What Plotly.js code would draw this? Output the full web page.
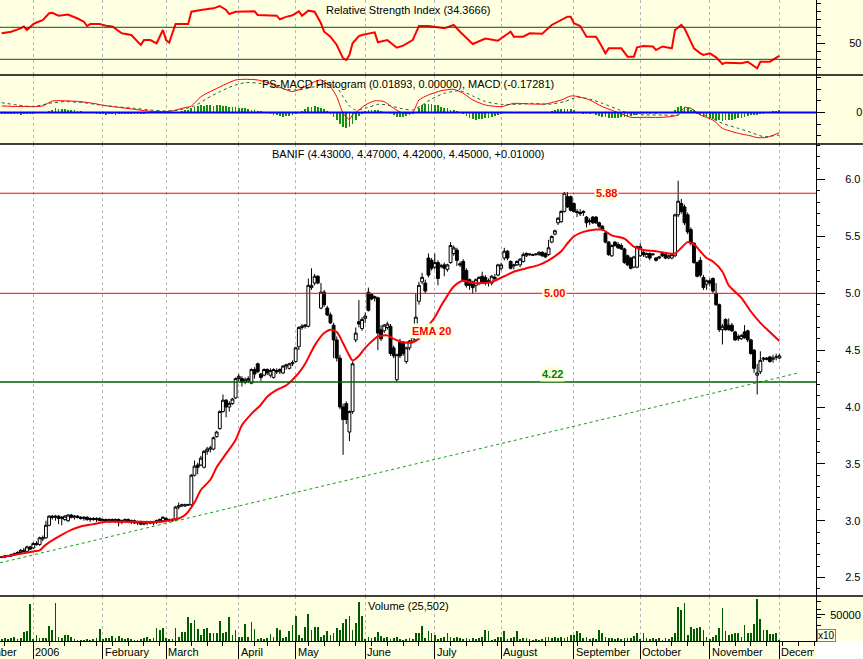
<!DOCTYPE html>
<html><head><meta charset="utf-8">
<script src="https://cdn.plot.ly/plotly-3.0.1.min.js"></script>
<style>html,body{margin:0;padding:0;background:#fff}#chart{width:863px;height:659px}</style>
</head><body><div id="chart"></div>
<script>
// ---- data (index 0 = 2 Jan 2006, trading days) ----
const firstIdx = -10;
const open = [
2.68,2.68,2.69,2.69,2.70,2.71,2.72,2.74,2.73,2.77,
2.76,2.80,2.79,2.84,2.85,2.96,3.04,3.03,3.04,3.02,
3.01,3.00,3.05,3.03,3.04,3.03,3.02,3.03,3.01,3.02,
3.01,3.02,3.00,3.01,3.00,3.01,3.00,3.01,2.99,3.00,
3.01,2.99,3.00,2.98,2.99,2.97,2.98,2.99,2.98,2.99,
3.00,3.00,3.02,3.01,3.00,3.01,3.12,3.13,3.13,3.14,
3.14,3.40,3.49,3.49,3.47,3.61,3.63,3.63,3.74,3.81,
3.96,4.06,4.00,4.03,4.08,4.25,4.25,4.22,4.23,4.21,
4.33,4.38,4.29,4.28,4.33,4.28,4.26,4.32,4.31,4.30,
4.36,4.34,4.38,4.40,4.53,4.70,4.71,4.71,5.05,5.09,
5.15,4.87,5.01,4.87,4.81,4.72,4.59,4.43,4.00,4.03,
3.78,3.96,4.59,4.75,4.69,4.78,5.01,4.99,4.97,4.96,
4.68,4.67,4.70,4.71,4.52,4.24,4.57,4.56,4.40,4.52,
4.58,4.59,4.93,5.10,5.09,5.31,5.29,5.23,5.27,5.24,
5.25,5.21,5.27,5.35,5.38,5.26,5.28,5.20,5.12,5.10,
5.07,5.09,5.15,5.14,5.10,5.09,5.14,5.16,5.22,5.31,
5.37,5.28,5.24,5.25,5.25,5.28,5.33,5.34,5.34,5.34,
5.34,5.36,5.35,5.34,5.45,5.52,5.62,5.63,5.72,5.85,
5.85,5.79,5.72,5.71,5.72,5.67,5.64,5.67,5.67,5.62,
5.59,5.53,5.45,5.33,5.45,5.43,5.42,5.39,5.33,5.31,
5.23,5.23,5.33,5.36,5.32,5.35,5.34,5.31,5.31,5.35,
5.34,5.31,5.31,5.33,5.69,5.79,5.76,5.69,5.56,5.44,
5.27,5.29,5.14,5.08,5.11,5.13,5.00,4.90,4.68,4.77,
4.72,4.72,4.66,4.62,4.60,4.66,4.67,4.59,4.50,4.28,
4.31,4.42,4.43,4.44,4.42,4.44,4.43];
const high = [
2.69,2.70,2.70,2.71,2.72,2.73,2.75,2.76,2.78,2.78,
2.81,2.82,2.86,2.87,3.00,3.05,3.05,3.05,3.05,3.04,
3.05,3.06,3.06,3.05,3.05,3.04,3.04,3.04,3.03,3.03,
3.03,3.03,3.02,3.02,3.02,3.02,3.02,3.02,3.01,3.02,
3.02,3.01,3.01,3.00,3.00,2.99,3.00,3.00,3.00,3.01,
3.02,3.04,3.03,3.02,3.02,3.13,3.16,3.15,3.15,3.15,
3.41,3.53,3.51,3.57,3.62,3.65,3.66,3.74,3.79,3.97,
4.11,4.07,4.05,4.08,4.26,4.29,4.27,4.26,4.27,4.34,
4.35,4.39,4.30,4.34,4.34,4.34,4.34,4.34,4.34,4.37,
4.38,4.39,4.41,4.53,4.71,4.73,4.73,5.13,5.22,5.17,
5.16,5.09,5.03,4.89,4.83,4.74,4.62,4.46,4.03,4.05,
3.97,4.40,4.70,4.94,4.79,4.83,5.05,5.00,4.98,4.97,
4.72,4.73,4.75,4.73,4.54,4.47,4.60,4.58,4.53,4.59,
4.62,5.00,5.10,5.18,5.12,5.35,5.31,5.35,5.29,5.26,
5.27,5.26,5.45,5.42,5.40,5.28,5.30,5.22,5.13,5.11,
5.13,5.15,5.19,5.16,5.13,5.16,5.17,5.26,5.27,5.40,
5.38,5.29,5.26,5.29,5.31,5.36,5.36,5.35,5.35,5.35,
5.37,5.37,5.36,5.47,5.51,5.56,5.67,5.73,5.89,5.89,
5.86,5.80,5.74,5.74,5.73,5.68,5.66,5.68,5.68,5.63,
5.60,5.54,5.46,5.43,5.46,5.45,5.44,5.40,5.34,5.32,
5.33,5.42,5.44,5.37,5.36,5.36,5.35,5.32,5.33,5.36,
5.35,5.34,5.35,5.70,5.99,5.83,5.78,5.71,5.58,5.45,
5.28,5.32,5.16,5.12,5.13,5.14,5.09,4.91,4.73,4.78,
4.78,4.74,4.67,4.64,4.64,4.72,4.68,4.60,4.51,4.38,
4.49,4.44,4.44,4.45,4.46,4.47,4.47];
const low = [
2.67,2.67,2.68,2.68,2.69,2.70,2.71,2.72,2.72,2.74,
2.75,2.78,2.78,2.82,2.84,2.95,3.01,3.00,2.97,2.96,
3.00,2.99,3.02,3.01,3.02,3.01,3.00,3.00,2.99,3.00,
2.99,3.00,2.99,2.99,2.98,2.99,2.98,2.95,2.97,2.98,
2.98,2.97,2.97,2.96,2.96,2.96,2.96,2.97,2.96,2.97,
2.98,2.99,3.00,2.99,2.99,3.00,3.10,3.12,3.12,3.13,
3.13,3.39,3.41,3.48,3.46,3.58,3.60,3.62,3.73,3.80,
3.95,3.91,3.96,4.02,4.07,4.23,4.18,4.20,4.21,4.20,
4.25,4.30,4.23,4.27,4.28,4.26,4.25,4.29,4.29,4.29,
4.33,4.33,4.36,4.39,4.50,4.68,4.69,4.70,5.03,5.07,
5.08,4.86,4.88,4.80,4.73,4.43,4.40,3.98,3.58,3.85,
3.70,3.94,4.57,4.70,4.67,4.74,4.84,4.94,4.93,4.50,
4.58,4.65,4.68,4.45,4.43,4.22,4.43,4.45,4.38,4.50,
4.56,4.58,4.90,5.08,5.00,5.14,5.20,5.21,5.07,5.22,
5.15,5.19,5.26,5.33,5.24,5.23,5.10,5.05,5.03,5.00,
5.01,5.07,5.08,5.07,5.06,5.07,5.11,5.15,5.20,5.29,
5.29,5.21,5.21,5.24,5.23,5.27,5.32,5.33,5.33,5.33,
5.33,5.32,5.31,5.33,5.44,5.51,5.60,5.62,5.71,5.75,
5.72,5.71,5.67,5.68,5.68,5.58,5.60,5.61,5.61,5.57,
5.55,5.44,5.33,5.32,5.41,5.39,5.38,5.26,5.24,5.21,
5.22,5.22,5.32,5.32,5.31,5.29,5.33,5.28,5.30,5.32,
5.30,5.30,5.30,5.32,5.67,5.70,5.60,5.52,5.42,5.26,
5.14,5.14,5.03,5.03,5.06,5.00,4.89,4.66,4.55,4.67,
4.67,4.66,4.58,4.58,4.59,4.60,4.57,4.46,4.30,4.11,
4.29,4.40,4.41,4.39,4.39,4.41,4.42];
const close = [
2.68,2.69,2.69,2.70,2.71,2.72,2.74,2.73,2.77,2.75,
2.80,2.79,2.85,2.85,2.96,3.04,3.03,3.04,3.02,3.03,
3.04,3.05,3.03,3.04,3.03,3.02,3.03,3.01,3.02,3.01,
3.02,3.00,3.01,3.00,3.01,3.00,3.01,2.99,3.00,3.01,
2.99,3.00,2.98,2.99,2.97,2.98,2.99,2.98,2.99,3.00,
3.01,3.03,3.01,3.00,3.01,3.12,3.13,3.14,3.14,3.14,
3.40,3.48,3.47,3.55,3.61,3.63,3.64,3.73,3.78,3.96,
4.06,4.00,4.03,4.07,4.25,4.27,4.22,4.24,4.25,4.33,
4.29,4.31,4.26,4.33,4.30,4.32,4.33,4.31,4.33,4.36,
4.37,4.38,4.39,4.52,4.70,4.71,4.72,5.07,5.07,5.15,
5.09,5.01,4.90,4.81,4.74,4.59,4.43,4.00,3.89,3.89,
3.96,4.38,4.65,4.73,4.77,4.80,4.85,4.95,4.96,4.65,
4.60,4.72,4.73,4.47,4.45,4.46,4.45,4.47,4.52,4.58,
4.61,4.79,5.07,5.14,5.02,5.16,5.22,5.27,5.13,5.24,
5.22,5.25,5.42,5.40,5.29,5.25,5.12,5.07,5.07,5.05,
5.12,5.14,5.09,5.09,5.11,5.15,5.13,5.25,5.25,5.37,
5.31,5.22,5.25,5.28,5.30,5.34,5.35,5.345,5.335,5.345,
5.36,5.33,5.32,5.40,5.50,5.55,5.66,5.72,5.88,5.76,
5.73,5.72,5.71,5.70,5.71,5.62,5.63,5.62,5.62,5.59,
5.56,5.45,5.34,5.42,5.42,5.40,5.39,5.27,5.25,5.22,
5.32,5.41,5.41,5.34,5.35,5.31,5.345,5.29,5.32,5.33,
5.31,5.33,5.34,5.69,5.81,5.72,5.62,5.54,5.44,5.27,
5.15,5.16,5.05,5.11,5.09,5.02,4.90,4.68,4.71,4.68,
4.68,4.67,4.59,4.60,4.63,4.61,4.59,4.47,4.34,4.30,
4.41,4.43,4.42,4.40,4.43,4.44,4.45];
// volume (x10)
const volume = [
3800,5100,3200,6400,8300,3800,5100,18000,20000,70500,
3200,11500,6400,6400,6400,29000,21000,73700,8300,5100,
11500,11500,8300,3800,1900,1900,1900,3200,1900,3200,
5100,22400,3200,6400,6400,9600,6400,10300,5100,3200,
5100,3200,1900,1900,3200,5100,8300,3800,5100,25600,
21200,24400,6400,3800,3200,24400,8300,17900,17900,46800,
34000,40400,22400,11500,22400,24400,14700,16000,14700,39100,
14700,17900,45500,11500,21200,8300,8300,32700,8300,37200,
22400,3800,5100,3800,5100,13500,8300,24400,21200,5100,
8300,19200,30800,48700,11500,5100,27600,51900,21200,27600,
27600,8300,11500,19900,11500,14700,24400,21200,34000,41700,
48100,21200,35300,75600,48000,4000,8300,5100,8300,17900,
9600,5100,8300,3200,5100,8300,3200,1900,3200,5100,
3200,14700,14700,28800,5100,19200,14700,11500,3200,5100,
8300,16000,8300,5100,8300,5100,3200,5100,3200,5100,
3200,6400,8300,21200,19900,1900,3200,8300,8300,19900,
3200,5100,8300,19900,3200,5100,5100,3200,1900,3200,
1900,3200,8300,8300,5100,8300,6400,8300,6400,8300,
11500,11500,19900,16000,5100,8300,3200,5100,3200,21200,
14700,8300,5100,6400,3200,5100,3200,5100,6400,6400,
9600,16000,3200,16000,5100,3200,5100,3200,5100,1900,
5100,3200,8300,14700,64700,59600,72400,11500,27600,22400,
24400,26300,21200,8300,3200,8300,11500,25600,64100,19200,
11500,12800,16000,14700,8300,30800,16000,16000,32700,80800,
42300,21200,21200,12800,12800,16000,2550];
// PS-MACD histogram, one bar per day
const macdHist = [
-0.012,-0.015,-0.017,-0.015,-0.014,-0.016,-0.018,-0.015,-0.013,-0.012,-0.010,-0.008,-0.006,-0.004,
0.008,0.015,0.025,0.035,0.032,0.030,0.028,0.025,0.022,0.018,0.015,0.012,0.008,0.004,
-0.004,-0.008,-0.012,-0.015,-0.016,-0.018,-0.017,-0.016,-0.018,-0.015,-0.013,-0.014,-0.012,-0.010,-0.011,-0.012,-0.010,-0.009,-0.008,-0.007,-0.006,-0.005,-0.004,-0.003,
-0.002,0.0,0.002,0.004,0.008,0.012,0.018,
0.025,0.035,0.048,0.055,0.060,0.058,0.062,0.060,0.058,0.063,0.060,0.055,0.052,0.050,0.048,0.045,0.042,0.040,
0.035,0.030,0.025,0.020,0.015,0.010,0.005,0.0,
-0.010,-0.020,-0.025,-0.030,-0.035,-0.032,-0.028,-0.022,-0.015,-0.005,
0.010,0.030,0.045,0.050,0.052,0.048,0.040,0.030,0.012,
-0.010,-0.035,-0.065,-0.100,-0.125,-0.135,-0.120,-0.095,-0.060,-0.030,-0.010,
0.010,0.020,0.025,0.022,0.018,0.012,0.005,-0.002,
-0.015,-0.025,-0.035,-0.040,-0.038,-0.030,-0.020,-0.010,0.000,
0.040,0.060,0.070,0.075,0.072,0.065,0.060,0.050,0.042,0.035,
0.025,0.020,0.015,0.008,
-0.010,-0.030,-0.045,-0.055,-0.060,-0.058,-0.055,-0.050,-0.045,-0.040,-0.030,-0.020,-0.012,
-0.008,-0.002,0.002,0.004,0.000,-0.004,0.002,0.003,0.000,-0.003,0.002,0.000,-0.002,0.003,0.005,0.010,
0.020,0.028,0.030,0.032,0.030,0.028,0.020,
0.005,-0.005,-0.010,-0.012,-0.010,-0.008,
-0.020,-0.030,-0.035,-0.040,-0.045,-0.048,-0.045,-0.050,-0.042,-0.040,-0.035,-0.030,-0.025,
-0.015,-0.012,-0.010,-0.012,-0.010,-0.008,-0.010,-0.008,-0.006,-0.005,-0.004,-0.002,
0.020,0.045,0.055,0.050,0.040,0.025,0.010,
-0.010,-0.025,-0.035,-0.040,-0.050,-0.055,-0.060,-0.065,-0.070,-0.068,-0.065,-0.060,-0.055,-0.050,-0.045,-0.040,
-0.030,-0.025,-0.020,-0.020,-0.015,-0.010,
0.005,0.008,0.010,0.012,0.019];
// EMA 20 (read at sample days)
const emaIdx = [-10,0,2,4,8,12,15,19,23,27,34,40,44,46,48,51,53,56,58,61,64,66,69,72,74,77,80,82,84,86,89,92,94,96,98,100,101,103,105,108,109,112,114,117,120,122,124,127,129,131,133,136,139,142,145,149,152,156,160,163,167,169,171,174,178,180,183,187,190,193,197,201,203,205,207,209,211,213,215,218,220,224,227,230,233,236];
const emaVal = [2.68,2.73,2.74,2.79,2.86,2.92,2.95,2.97,2.99,2.99,2.99,2.99,3.01,3.02,3.05,3.16,3.27,3.36,3.47,3.59,3.71,3.84,3.94,4.02,4.09,4.15,4.19,4.24,4.30,4.38,4.54,4.65,4.68,4.66,4.56,4.45,4.41,4.45,4.52,4.60,4.62,4.63,4.60,4.57,4.57,4.60,4.68,4.79,4.89,4.98,5.06,5.11,5.09,5.09,5.10,5.15,5.19,5.22,5.25,5.29,5.37,5.44,5.50,5.54,5.56,5.56,5.51,5.48,5.41,5.38,5.37,5.35,5.35,5.40,5.45,5.43,5.37,5.31,5.28,5.19,5.07,4.96,4.84,4.74,4.66,4.58];
// RSI
const rsiIdx = [-10,-7,-4,-3,-2,0,1,3,5,6,8,11,14,16,17,18,21,23,25,28,31,32,34,35,37,39,41,42,43,44,45,49,50,53,57,59,61,62,64,70,71,77,78,80,82,84,85,87,89,91,92,94,96,98,99,100,101,103,104,108,109,112,115,117,120,122,125,130,133,135,139,143,147,151,152,155,157,161,164,169,170,171,173,175,178,179,181,182,186,188,190,191,193,196,197,199,202,203,205,206,209,211,212,214,216,218,219,224,226,229,230,233,236];
const rsiVal = [62.5,64.5,68.7,71,66.6,74,76,79,87.5,88,84.5,86,81,77,71.6,74,74,72,71,62.5,60.4,56,47.9,54,54,50,66.6,54,50.8,62.5,74,74,89.5,91.6,93.7,96.6,91.6,86.6,89.5,90,85.4,84.5,80,83,85,90,84.5,90.8,89.5,75,64.5,58.3,47.9,31.2,29.1,35.4,50,59,60.4,63.7,51.2,54,44.5,47,54,71.6,71.6,68.7,72.9,64.5,49.1,56,53.3,64.5,58.3,58.3,62.5,62,72.9,83.3,83.3,75,71.6,58.3,58.3,52,37.5,43.7,43.7,33.3,33.3,45,46.6,46,41.6,46,43.7,66.6,72.9,68.7,43.7,37.5,35.4,37.5,32.5,24.1,25.8,25,27,18.7,27,27,34.3666];
// MACD and its signal line
const macdIdx = [-10,-5,0,3,6,10,15,19,23,27,32,36,40,44,47,50,53,57,61,64,67,71,74,78,82,85,89,91,94,96,98,100,101,103,105,108,111,114,117,120,122,125,129,133,136,139,143,148,152,157,162,167,170,172,176,180,185,189,193,199,204,206,208,211,215,218,223,227,229,232,236];
const macdVal = [0.056,0.051,0.051,0.056,0.098,0.10,0.093,0.078,0.058,0.044,0.027,0.013,0.007,0.013,0.036,0.056,0.135,0.192,0.244,0.278,0.284,0.278,0.255,0.215,0.178,0.207,0.263,0.278,0.221,0.135,-0.007,-0.058,-0.021,0.021,0.064,0.10,0.093,0.036,-0.007,0.0,0.107,0.15,0.186,0.198,0.164,0.107,0.064,0.05,0.078,0.073,0.073,0.107,0.141,0.138,0.107,0.05,0.0,-0.041,-0.041,-0.041,-0.021,0.044,0.036,-0.021,-0.064,-0.135,-0.178,-0.20,-0.215,-0.213,-0.17281];
const sigIdx = [-10,-5,0,5,10,16,21,26,32,37,42,46,51,55,59,63,67,72,76,80,84,89,93,96,98,100,102,105,109,112,116,120,123,126,130,135,139,143,148,153,158,163,168,172,176,180,185,189,194,199,204,207,210,214,218,223,227,231,236];
const sigVal = [0.084,0.064,0.05,0.078,0.093,0.084,0.064,0.05,0.036,0.021,0.013,0.021,0.056,0.121,0.178,0.226,0.255,0.249,0.221,0.198,0.192,0.221,0.249,0.215,0.135,0.056,0.021,0.036,0.07,0.064,0.036,0.021,0.064,0.115,0.164,0.186,0.141,0.093,0.07,0.07,0.078,0.07,0.093,0.13,0.115,0.078,0.027,-0.013,-0.021,-0.021,-0.021,0.036,0.007,-0.041,-0.093,-0.135,-0.17,-0.206,-0.192];
// trend line and levels
const trendIdx = [-10.5, 242];
const trendVal = [2.63, 4.30];
const levelVals = [5.88, 5.00, 4.22];
const levelColors = ['#FF0000', '#FF0000', '#006000'];
// axis labels
const monthIdx = [0,22,42,65,83,105,127,148,171,192,214,236];
const monthNames = ['2006','February','March','April','May','June','July','August','September','October','November','December'];
const weekIdx = [-9,-4,0,5,10,15,20,25,30,35,40,45,50,55,60,65,70,74,78,83,87,92,97,102,107,112,117,122,127,132,137,142,147,152,157,162,167,172,177,182,187,192,197,202,207,212,217,222,227,232,237,242,247];
const priceTicks = [2.5,3.0,3.5,4.0,4.5,5.0,5.5,6.0];
const titles = {
  rsi: 'Relative Strength Index (34.3666)',
  macd: 'PS-MACD Histogram (0.01893, 0.00000), MACD (-0.17281)',
  price: 'BANIF (4.43000, 4.47000, 4.42000, 4.45000, +0.01000)',
  vol: 'Volume (25,502)'
};

// ---- drawing ----
const FONT = '"Liberation Sans", Arial, sans-serif';
const YEL = '#FFFFE1';
const xs = close.map((_, k) => firstIdx + k);
const H = 641; // plot-area height in px

const traces = [
  {type:'scatter', mode:'lines', x:trendIdx, y:trendVal, xaxis:'x', yaxis:'y',
   line:{color:'#12a012', width:1, dash:'3px,3px'}, hoverinfo:'skip'},
  {type:'candlestick', x:xs, open:open, high:high, low:low, close:close, xaxis:'x', yaxis:'y',
   increasing:{line:{color:'#000', width:1}, fillcolor:'#FFFFFF'},
   decreasing:{line:{color:'#000', width:1}, fillcolor:'#000000'},
   whiskerwidth:0, hoverinfo:'skip'},
  {type:'scatter', mode:'lines', x:emaIdx, y:emaVal, xaxis:'x', yaxis:'y',
   line:{color:'#FF0000', width:2, shape:'spline', smoothing:0.8}, hoverinfo:'skip'},
  {type:'scatter', mode:'lines', x:rsiIdx, y:rsiVal, xaxis:'x', yaxis:'y2',
   line:{color:'#FF0000', width:2}, hoverinfo:'skip'},
  {type:'bar', x:xs, y:macdHist, xaxis:'x', yaxis:'y3', width:0.55,
   marker:{color:'#139013', line:{width:0}}, hoverinfo:'skip'},
  {type:'scatter', mode:'lines', x:macdIdx, y:macdVal, xaxis:'x', yaxis:'y3',
   line:{color:'#FF0000', width:1, shape:'spline', smoothing:0.6}, hoverinfo:'skip'},
  {type:'scatter', mode:'lines', x:sigIdx, y:sigVal, xaxis:'x', yaxis:'y3',
   line:{color:'#1e5a4a', width:1, dash:'3px,3px', shape:'spline', smoothing:0.6}, hoverinfo:'skip'},
  {type:'bar', x:xs, y:volume, xaxis:'x', yaxis:'y4', width:0.55,
   marker:{color:'#005a00', line:{width:0}}, hoverinfo:'skip'}
];

const tickFont = {family:FONT, size:11, color:'#000'};
function yax(extra){
  return Object.assign({side:'right', anchor:'x', showline:true, linecolor:'#000', linewidth:1,
    ticks:'outside', ticklen:8, tickcolor:'#000', tickwidth:1, tickfont:tickFont,
    showgrid:false, zeroline:false, fixedrange:true}, extra);
}

const shapes = [
  {type:'rect', xref:'paper', yref:'paper', x0:0, x1:863/816, y0:(H-144)/H, y1:1, fillcolor:YEL, line:{width:0}, layer:'below'},
  {type:'rect', xref:'paper', yref:'paper', x0:0, x1:863/816, y0:0, y1:45/H, fillcolor:YEL, line:{width:0}, layer:'below'},
  {type:'rect', xref:'paper', yref:'paper', x0:0, x1:1, y0:-18/H, y1:0, fillcolor:YEL, line:{width:0}, layer:'below'},
  {type:'line', xref:'paper', yref:'y2', x0:0, x1:1, y0:70, y1:70, line:{color:'#005a00', width:1}},
  {type:'line', xref:'paper', yref:'y2', x0:0, x1:1, y0:30, y1:30, line:{color:'#005a00', width:1}},
  {type:'line', xref:'paper', yref:'y3', x0:0, x1:1, y0:0, y1:0, line:{color:'#0000FF', width:2}, layer:'above'}
];
levelVals.forEach((v, k) => shapes.push({type:'line', xref:'paper', yref:'y', x0:0, x1:1, y0:v, y1:v,
  line:{color:levelColors[k], width:k === 2 ? 1.5 : 1}}));
[45/H, (H-144)/H, (H-75)/H].forEach(p => shapes.push({type:'line', xref:'paper', yref:'paper',
  x0:0, x1:863/816, y0:p, y1:p, line:{color:'#000', width:1.5}, layer:'above'}));

const annotations = [];
function title(text, ypx){
  annotations.push({xref:'paper', yref:'paper', x:0.5, y:(H-ypx)/H, xanchor:'center', yanchor:'middle',
    text:text, showarrow:false, font:{family:FONT, size:11, color:'#000'}});
}
title(titles.rsi, 10);
title(titles.macd, 84);
title(titles.price, 154);
title(titles.vol, 606);

function tag(text, x, y, color, yanchor){
  annotations.push({xref:'x', yref:'y', x:x, y:y, xanchor:'center', yanchor:yanchor || 'middle',
    text:'<b>' + text + '</b>', showarrow:false, bgcolor:YEL, borderpad:1,
    font:{family:FONT, size:11, color:color}});
}
tag(levelVals[0].toFixed(2), 181.2, levelVals[0], levelColors[0]);
tag(levelVals[1].toFixed(2), 164.9, levelVals[1], levelColors[1]);
tag(levelVals[2].toFixed(2), 164.4, levelVals[2], '#008000', 'bottom');
tag('EMA 20', 126, 4.668, '#FF0000');

monthIdx.forEach((m, k) => {
  const a = {xref:'x', yref:'paper', x:m, y:-11/H, xanchor:'left', yanchor:'middle', xshift:0,
    text:monthNames[k], showarrow:false, borderpad:1, align:'left',
    font:{family:FONT, size:11, color:'#000'}};
  if (k === monthIdx.length - 1) { a.width = 33; }
  annotations.push(a);
});
// previous month's label, partly beyond the left edge as in the original
annotations.push({xref:'paper', yref:'paper', x:-36/816, y:-11/H, xanchor:'left', yanchor:'middle',
  text:'December', showarrow:false, borderpad:1, font:{family:FONT, size:11, color:'#000'}});
annotations.push({xref:'paper', yref:'paper', x:826.5/816, y:6/H, xanchor:'center', yanchor:'middle',
  text:'x10', showarrow:false, borderpad:0, bordercolor:'#808080', borderwidth:1, bgcolor:YEL,
  font:{family:FONT, size:10, color:'#000'}});

const layout = {
  width:863, height:659,
  margin:{l:0, r:47, t:0, b:18, pad:0},
  paper_bgcolor:'#FFFFFF', plot_bgcolor:'rgba(0,0,0,0)',
  showlegend:false, hovermode:false,
  font:{family:FONT, size:11, color:'#000'},
  boxgap:0.1, boxgroupgap:0, bargap:0,
  xaxis:{range:[-10.535, 247.6], anchor:'y4', showline:true, linecolor:'#000', linewidth:1,
    tickmode:'array', tickvals:monthIdx, ticks:'outside', ticklen:18, tickcolor:'#000', tickwidth:1,
    showticklabels:false, showgrid:true, gridcolor:'#b8b8b8', griddash:'3px,3px', gridwidth:1,
    zeroline:false, fixedrange:true, rangeslider:{visible:false},
    minor:{tickmode:'array', tickvals:weekIdx, ticks:'outside', ticklen:4, tickcolor:'#000', showgrid:false}},
  yaxis: yax({domain:[45/H, (H-144)/H], range:[2.338, 6.313], tickmode:'array', tickvals:priceTicks,
    ticktext:priceTicks.map(v => v.toFixed(1)), ticklabelstandoff:18,
    minor:{tickmode:'linear', tick0:0, dtick:0.1, ticks:'outside', ticklen:3, tickcolor:'#000'}}),
  yaxis2: yax({domain:[(H-75)/H, 1], range:[10.4, 104.1], tickmode:'array', tickvals:[50], ticktext:['50'],
    ticklabelstandoff:22, minor:{tickmode:'linear', tick0:0, dtick:10, ticks:'outside', ticklen:4, tickcolor:'#000'}}),
  yaxis3: yax({domain:[(H-144)/H, (H-75)/H], range:[-0.2692, 0.3205], tickmode:'array', tickvals:[0], ticktext:['0'],
    ticklabelstandoff:29, minor:{tickmode:'linear', tick0:0, dtick:0.1, ticks:'outside', ticklen:4, tickcolor:'#000'}}),
  yaxis4: yax({domain:[0, 45/H], range:[0, 86500], tickmode:'array', tickvals:[50000], ticktext:['50000'],
    ticklabelstandoff:3, minor:{tickmode:'linear', tick0:0, dtick:15000, ticks:'outside', ticklen:4, tickcolor:'#000'}}),
  shapes:shapes,
  annotations:annotations
};

Plotly.newPlot('chart', traces, layout, {staticPlot:true, displayModeBar:false});
</script></body></html>
